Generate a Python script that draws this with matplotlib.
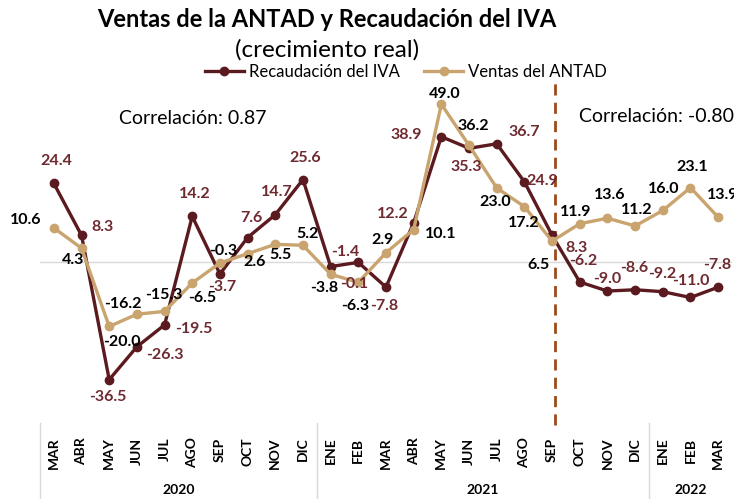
import numpy as np
import matplotlib
matplotlib.use("Agg")
import matplotlib.pyplot as plt
from matplotlib.transforms import blended_transform_factory

plt.rcParams['font.family'] = ['Lato', 'DejaVu Sans']

months = ['MAR', 'ABR', 'MAY', 'JUN', 'JUL', 'AGO', 'SEP', 'OCT', 'NOV', 'DIC',
          'ENE', 'FEB', 'MAR', 'ABR', 'MAY', 'JUN', 'JUL', 'AGO', 'SEP', 'OCT', 'NOV', 'DIC',
          'ENE', 'FEB', 'MAR']
years = ['2020', '2021', '2022']
year_span = [(0, 9), (10, 21), (22, 24)]

iva = [24.4, 8.3, -36.5, -26.3, -19.5, 14.2, -3.7, 7.6, 14.7, 25.6,
       -1.4, -0.1, -7.8, 12.2, 38.9, 35.3, 36.7, 24.9, 8.3, -6.2, -9.0, -8.6,
       -9.2, -11.0, -7.8]
antad = [10.6, 4.3, -20.0, -16.2, -15.3, -6.5, -0.3, 2.6, 5.5, 5.2,
         -3.8, -6.3, 2.9, 10.1, 49.0, 36.2, 23.0, 17.2, 6.5, 11.9, 13.6, 11.2,
         16.0, 23.1, 13.9]

# label offsets in pixels (dx, dy)
iva_off = [(2, 22), (21, 8), (-1, -17), (28, -8), (29, -4), (3, 22), (2, -13), (4, 20), (1, 23), (2, 22),
           (15, 15), (-4, -22), (-2, -19), (-21, 9), (-35, 2), (-3, -19), (28, 12), (18, 1), (24, -13),
           (3, 21), (0, 12), (-1, 22), (-1, 18), (0, 16), (-1, 22)]
antad_off = [(-28, 8), (-8, -12), (13, -16), (-14, 10), (-1, 16), (10, -15), (3, 12), (7, -8), (5, -11), (5, 11),
             (-6, -14), (-3, -24), (-3, 13), (27, -4), (3, 10), (4, 19), (-2, -14), (-1, -16), (-14, -24),
             (-4, 12), (2, 23), (2, 16), (1, 21), (2, 21), (5, 22)]

c_iva = '#5B1A20'
c_iva_lbl = '#6E2A30'
c_antad = '#C9A46F'

fig = plt.figure(figsize=(7.34, 4.99), dpi=100)
ax = fig.add_axes([40 / 734, 81 / 499, 692 / 734, 338 / 499])

x = np.arange(len(months))
ax.axhline(0, color='#D9D9D9', lw=1, zorder=1)
ax.plot(x, iva, color=c_iva, lw=2.4, marker='o', ms=6, label='Recaudación del IVA', zorder=3)
ax.plot(x, antad, color=c_antad, lw=2.4, marker='o', ms=6, label='Ventas del ANTAD', zorder=3)

for i in x:
    ax.annotate(f'{iva[i]:.1f}', (i, iva[i]), xytext=iva_off[i], textcoords='offset pixels',
                ha='center', va='center', fontsize=11.5, fontweight='bold', color=c_iva_lbl, zorder=4)
    ax.annotate(f'{antad[i]:.1f}', (i, antad[i]), xytext=antad_off[i], textcoords='offset pixels',
                ha='center', va='center', fontsize=11.5, fontweight='bold', color='black', zorder=4)

ax.set_xlim(-0.5, len(months) - 0.5)
ax.set_ylim(-48.4, 56.5)
ax.set_yticks([])
ax.set_xticks(x)
ax.set_xticklabels(months, rotation=90, fontsize=10, fontweight='bold')
ax.tick_params(axis='x', length=0, pad=14)
for s in ax.spines.values():
    s.set_visible(False)

# dashed separator for periods
trans = blended_transform_factory(ax.transData, fig.transFigure)
ax.plot([18.1, 18.1], [1 - 425 / 499, 1 - 80 / 499], transform=trans, color='#9C4A1A',
        lw=2, ls=(0, (4, 2.6)), clip_on=False, zorder=2)

# year group separators
for b in [-0.5, 9.5, 21.5]:
    ax.plot([b, b], [0, 1 - 423 / 499], transform=trans, color='#D9D9D9', lw=1, clip_on=False)
for yr, (a, b) in zip(years, year_span):
    ax.text((a + b) / 2, 1 - 490 / 499, yr, transform=trans, ha='center', va='center',
            fontsize=10, fontweight='bold')

fig.text(0.445, 0.96, 'Ventas de la ANTAD y Recaudación del IVA', ha='center', va='center',
         fontsize=17, fontweight='bold')
fig.text(0.445, 0.9, '(crecimiento real)', ha='center', va='center', fontsize=17.5)
fig.legend(loc='center', bbox_to_anchor=(0.553, 0.856), ncol=2, frameon=False, fontsize=12,
           handlelength=2.3, columnspacing=1.5, handletextpad=0.3, borderpad=0)

fig.text(0.262, 0.763, 'Correlación: 0.87', ha='center', va='center', fontsize=14)
fig.text(0.895, 0.766, 'Correlación: -0.80', ha='center', va='center', fontsize=14)

fig.savefig('out.png', dpi=100)
